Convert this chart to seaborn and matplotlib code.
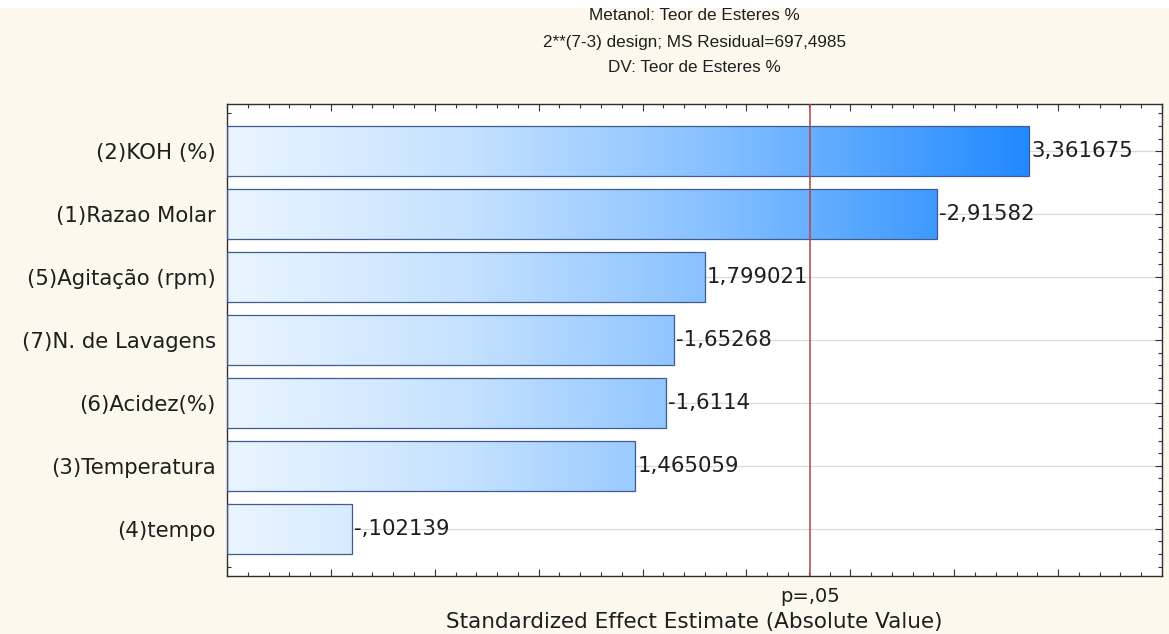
import numpy as np
import pandas as pd
import matplotlib
matplotlib.use("Agg")
import matplotlib.pyplot as plt
import matplotlib.transforms as mtransforms
from matplotlib.colors import LinearSegmentedColormap
from matplotlib.patches import Rectangle
from matplotlib.ticker import MultipleLocator, NullFormatter
import seaborn as sns

# Pareto chart of standardized effects (2**(7-3) fractional factorial)
factors = ["(2)KOH (%)", "(1)Razao Molar", "(5)Agitação (rpm)", "(7)N. de Lavagens",
           "(6)Acidez(%)", "(3)Temperatura", "(4)tempo"]
effects = [3.361675, -2.91582, 1.799021, -1.65268, -1.6114, 1.465059, -0.102139]
t_critical = 2.306004  # t(0.975; df=8)
title_lines = ["Metanol: Teor de Esteres %",
               "2**(7-3) design; MS Residual=697,4985",
               "DV: Teor de Esteres %"]
x_label = "Standardized Effect Estimate (Absolute Value)"
p_label = "p=,05"

df = pd.DataFrame({"factor": factors, "effect": effects})
df["abs_effect"] = df["effect"].abs()

sns.set_theme(style="white")
plt.rcParams["font.family"] = ["Liberation Sans", "DejaVu Sans"]
WIDE = ["DejaVu Sans"]
LABEL_SIZE = 15.3

BG = "#FCF8EE"
TXT = "#1E1E1E"
XMIN, XMAX = -0.5, 4.0

fig = plt.figure(figsize=(11.69, 6.34), dpi=100, facecolor=BG)
W, H = 1169, 634
fig.patches.append(Rectangle((0, 1 - 8 / H), 1, 8 / H, transform=fig.transFigure,
                             facecolor="white", edgecolor="none", zorder=0))
ax = fig.add_axes([227 / W, (H - 576) / H, (1162 - 227) / W, (576 - 104) / H])
ax.set_facecolor("white")

sns.barplot(data=df, x="abs_effect", y="factor", orient="h", ax=ax,
            width=0.8, color="#5AA8FF", edgecolor="#3E5C8C", linewidth=0.9,
            zorder=3)

# horizontal blue gradient spread over the value axis, clipped to each bar
cmap = LinearSegmentedColormap.from_list(
    "blues_grad",
    [(0.0, "#EAF5FF"), (0.3, "#C4E1FF"), (0.6, "#86C0FF"), (1.0, "#1E88FF")], N=256)
grad = np.linspace(0, 1, 512).reshape(1, -1)
grad_right = 3.4
for patch in ax.patches:
    val = patch.get_width()
    patch.set_x(XMIN)
    patch.set_width(val - XMIN)
    patch.set_facecolor("none")
    y0 = patch.get_y()
    h = patch.get_height()
    im = ax.imshow(grad, cmap=cmap, aspect="auto",
                   extent=(XMIN, grad_right, y0 + h, y0), zorder=2,
                   interpolation="bicubic")
    im.set_clip_path(patch)

ax.set_xlim(XMIN, XMAX)
ax.set_ylim(len(factors) - 0.25, -0.75)

# value labels beside each bar
def fmt(v):
    s = f"{v:.7g}"
    if abs(v) < 1:
        s = s.replace("0.", ".")
    return s.replace(".", ",")

for i, (a, v) in enumerate(zip(df["abs_effect"], df["effect"])):
    ax.annotate(fmt(v), xy=(a, i), xytext=(1.5, 0), textcoords="offset points",
                ha="left", va="center", fontsize=LABEL_SIZE, family=WIDE,
                color=TXT, zorder=5)

# significance threshold
ax.axvline(t_critical, color="#B8404A", linewidth=1.1, zorder=6)

# grid, ticks and frame
ax.yaxis.grid(True, color="#D9D9D9", linewidth=0.9, zorder=0)
ax.xaxis.grid(False)
ax.set_axisbelow(True)
ax.xaxis.set_major_locator(MultipleLocator(0.5))
ax.xaxis.set_minor_locator(MultipleLocator(0.1))
ax.xaxis.set_major_formatter(NullFormatter())
ax.yaxis.set_minor_locator(MultipleLocator(0.2))
ax.tick_params(axis="both", which="both", direction="in", top=True, right=True,
               bottom=True, left=True, color="#333333", width=0.8)
ax.tick_params(axis="both", which="major", length=5)
ax.tick_params(axis="both", which="minor", length=3)
ax.tick_params(axis="y", which="major", labelcolor=TXT, pad=8)
for lab in ax.get_yticklabels():
    lab.set_family(WIDE)
    lab.set_fontsize(LABEL_SIZE)
for sp in ax.spines.values():
    sp.set_visible(True)
    sp.set_color("#2E2E2E")
    sp.set_linewidth(1.0)
ax.set_xlabel("")
ax.set_ylabel("")

# titles and axis captions
cx = (227 + 1162) / 2 / W
for txt, ypix in zip(title_lines, [16, 42, 68]):
    fig.text(cx, 1 - ypix / H, txt, ha="center", va="center", fontsize=12.3, color=TXT)

blend = mtransforms.blended_transform_factory(ax.transData, fig.transFigure)
ax.text(t_critical, 1 - 597 / H, p_label, transform=blend, ha="center", va="center",
        fontsize=14, family=WIDE, color=TXT)
fig.text(cx, 1 - 622 / H, x_label, ha="center", va="center", fontsize=15.5,
         family=WIDE, color=TXT)

fig.savefig("out.png", dpi=100, facecolor=BG)
